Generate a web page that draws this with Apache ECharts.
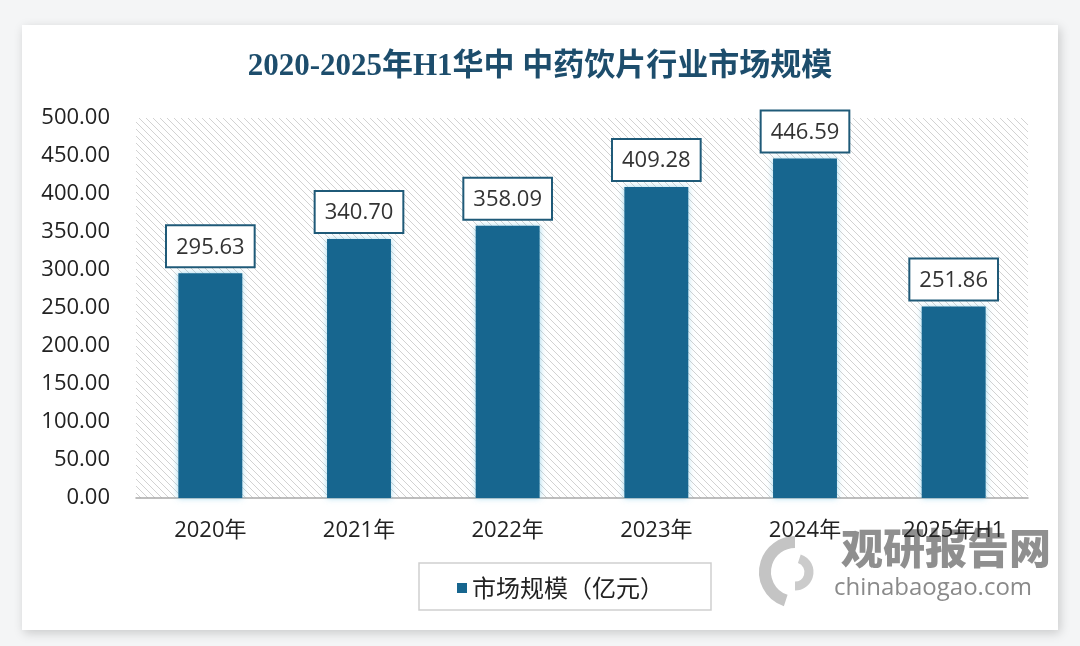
<!DOCTYPE html>
<html><head><meta charset="utf-8">
<script src="https://cdn.jsdelivr.net/npm/echarts@6/dist/echarts.min.js"></script>
<style>html,body{margin:0;padding:0;background:#f4f5f6;}#c{width:1080px;height:646px;}</style>
</head><body><div id="c"></div>
<script>
const titleText = '2020-2025年H1华中 中药饮片行业市场规模';
const categories = ['2020年','2021年','2022年','2023年','2024年','2025年H1'];
const seriesName = '市场规模（亿元）';
const values = [295.63, 340.70, 358.09, 409.28, 446.59, 251.86];
const yTicks = [0, 50, 100, 150, 200, 250, 300, 350, 400, 450, 500];

// hatch pattern
const T = 7;
const pc = document.createElement('canvas');
pc.width = T; pc.height = T;
const g = pc.getContext('2d');
g.fillStyle = '#ffffff'; g.fillRect(0,0,T,T);
g.strokeStyle = '#d2d2d2'; g.lineWidth = 1;
g.beginPath();
g.moveTo(-1,-1); g.lineTo(T+1,T+1);
g.moveTo(-T-1,-1); g.lineTo(1,T+1);
g.moveTo(T-1,-1); g.lineTo(2*T+1,T+1);
g.stroke();

const chart = echarts.init(document.getElementById('c'));
chart.setOption({
  backgroundColor: '#f4f5f6',
  animation: false,
  title: {
    text: titleText, left: 'center', top: 46,
    textStyle: {fontFamily: '"Liberation Serif","Noto Sans CJK SC"', fontWeight: 'bold', fontSize: 31, color: '#1d4d6c'}
  },
  graphic: [
    {type:'rect', shape:{x:22,y:25,width:1036,height:605}, style:{fill:'#ffffff', shadowBlur:10, shadowColor:'rgba(0,0,0,0.18)', shadowOffsetX:2, shadowOffsetY:3}, z:-10},
    {type:'rect', shape:{x:419,y:563,width:292,height:47}, style:{fill:'rgba(0,0,0,0)', stroke:'#cfcfcf', lineWidth:1.5}, z:1},
    {type:'arc', shape:{cx:795,cy:572,r:30,startAngle:Math.PI*0.6,endAngle:Math.PI*1.5}, style:{stroke:'#c4c4c4', lineWidth:12, fill:null}, z:-1},
    {type:'arc', shape:{cx:795,cy:572,r:14,startAngle:Math.PI*1.6,endAngle:Math.PI*2.5}, style:{stroke:'#cbcbcb', lineWidth:9, fill:null}, z:-1},
    {type:'text', left:841, top:527, style:{text:'观研报告网', fontFamily:'"Noto Sans CJK SC"', fontWeight:900, fontSize:42, fill:'#8f8f8f'}, z:-1},
    {type:'text', left:834, top:576, style:{text:'chinabaogao.com', fontFamily:'"Open Sans","DejaVu Sans"', fontSize:24, fill:'#8a8a8a'}, z:-1}
  ],
  legend: {
    data: [seriesName], left: 452, top: 571, itemWidth: 10, itemHeight: 10, icon: 'rect', itemGap: 10,
    textStyle: {fontFamily: '"Noto Sans CJK SC"', fontSize: 24, color: '#222'}
  },
  grid: {left: 136, right: 52, top: 118, bottom: 148, show: true, borderWidth: 0,
    backgroundColor: {image: pc, repeat: 'repeat'}},
  xAxis: {
    type: 'category', data: categories,
    axisLine: {lineStyle: {color: '#a9a9a9', width: 1.5}},
    axisTick: {show: false},
    axisLabel: {fontFamily: '"Open Sans","Noto Sans CJK SC"', fontSize: 22, color: '#222', margin: 22}
  },
  yAxis: {
    type: 'value', min: yTicks[0], max: yTicks[yTicks.length-1], interval: 50,
    splitLine: {show: false}, axisLine: {show: false}, axisTick: {show: false},
    axisLabel: {fontFamily: '"Open Sans"', fontSize: 22, color: '#222', margin: 26, formatter: v => v.toFixed(2)}
  },
  series: [{
    name: seriesName, type: 'bar', data: values, barWidth: '43%',
    itemStyle: {color: '#17668f', shadowBlur: 6, shadowColor: 'rgba(120,200,230,0.7)'},
    label: {
      show: true, position: 'top', distance: 7,
      formatter: p => p.value.toFixed(2),
      fontFamily: '"Open Sans"', fontSize: 22, color: '#333',
      backgroundColor: '#ffffff', borderColor: '#1f5a78', borderWidth: 2,
      padding: [10, 9, 8, 9]
    }
  }]
});
</script></body></html>
